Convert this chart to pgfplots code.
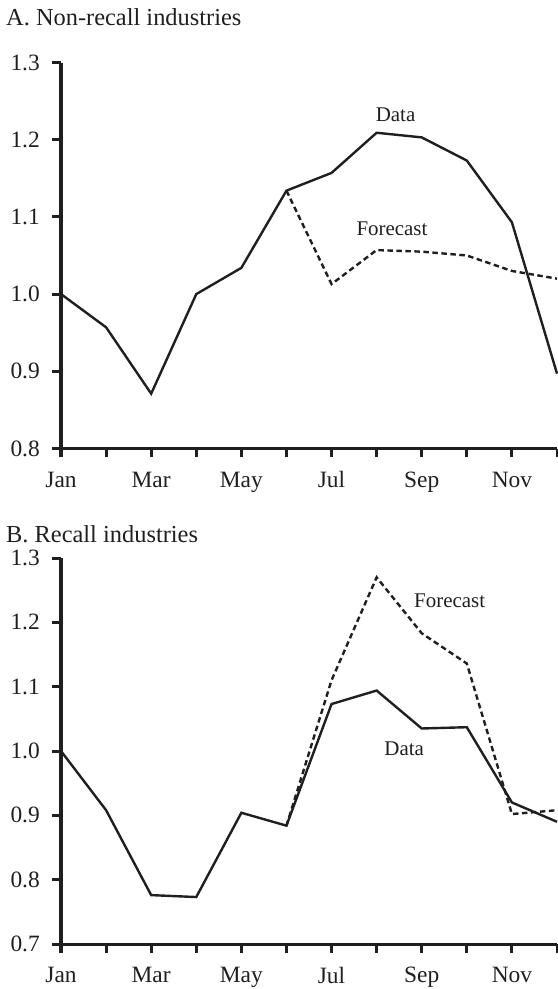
\documentclass[border=0pt]{standalone}
\usepackage{fontspec}
\setmainfont{Liberation Serif}
\usepackage{pgfplots}
\pgfplotsset{compat=1.18}
\definecolor{ink}{rgb}{0.12,0.12,0.12}

\pgfplotsset{
  panel/.style={
    scale only axis, width=496bp, height=386bp,
    xmin=1, xmax=12,
    axis lines=left, axis line style={-, line width=3bp, ink},
    tick align=outside, major tick length=8.5bp,
    tick style={line width=3bp, ink},
    xtick={1,...,12},
    xticklabels={Jan,,Mar,,May,,Jul,,Sep,,Nov,},
    ticklabel style={font=\fontsize{23.5}{27}\selectfont, text=ink, inner sep=0pt},
    xticklabel style={anchor=north, yshift=-14.5bp},
    yticklabel style={anchor=east, xshift=-12.5bp,
      /pgf/number format/.cd, fixed, fixed zerofill, precision=1},
    /pgf/number format/assume math mode=true,
    anchor=south west, clip=false,
    title style={at={(0,1)}, anchor=base west, inner sep=0pt,
      font=\fontsize{24.5}{28}\selectfont, text=ink},
  },
  solidline/.style={line width=2.4bp, ink},
  dashline/.style={line width=2.4bp, ink, dash pattern=on 5.5bp off 3.5bp},
}
\tikzset{lbl/.style={font=\fontsize{21}{24}\selectfont, text=ink, anchor=base, inner sep=0pt}}

\begin{document}
\begin{tikzpicture}
\useasboundingbox (0,0) rectangle (558bp,-989bp);

% Panel A
\begin{axis}[panel, at={(61bp,-448.5bp)},
    ymin=0.8, ymax=1.3, ytick={0.8,0.9,...,1.3},
    title={A. Non-recall industries},
    title style={xshift=-55bp, yshift=31bp}]
  \addplot[solidline] coordinates {
    (1,1.000) (2,0.957) (3,0.871) (4,1.000) (5,1.034) (6,1.134)
    (7,1.157) (8,1.209) (9,1.203) (10,1.173) (11,1.093) (12,0.897)};
  \addplot[dashline] coordinates {
    (6,1.134) (7,1.013) (8,1.057) (9,1.055) (10,1.050) (11,1.030) (12,1.020)};
  \node[lbl] at (axis cs:8.42,1.223) {Data};
  \node[lbl] at (axis cs:8.34,1.076) {Forecast};
\end{axis}

% Panel B
\begin{axis}[panel, at={(61bp,-944bp)},
    ymin=0.7, ymax=1.3, ytick={0.7,0.8,...,1.3},
    title={B. Recall industries},
    title style={xshift=-55bp, yshift=10bp}]
  \addplot[solidline] coordinates {
    (1,1.000) (2,0.908) (3,0.776) (4,0.773) (5,0.904) (6,0.884)
    (7,1.073) (8,1.094) (9,1.035) (10,1.037) (11,0.920) (12,0.890)};
  \addplot[dashline] coordinates {
    (6,0.884) (7,1.110) (8,1.270) (9,1.183) (10,1.136) (11,0.902) (12,0.908)};
  \node[lbl] at (axis cs:9.62,1.223) {Forecast};
  \node[lbl] at (axis cs:8.61,0.9925) {Data};
\end{axis}
\end{tikzpicture}
\end{document}
